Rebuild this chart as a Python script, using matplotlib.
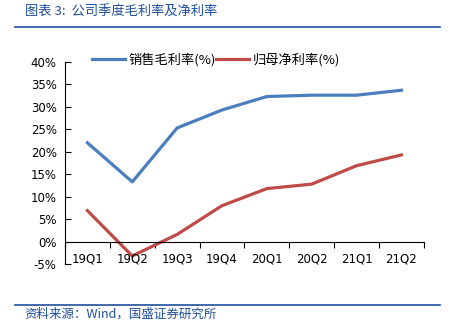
import matplotlib.pyplot as plt
import numpy as np

plt.rcParams['font.family'] = ['DejaVu Sans', 'Noto Sans CJK SC']

quarters = ['19Q1', '19Q2', '19Q3', '19Q4', '20Q1', '20Q2', '21Q1', '21Q2']
gross_margin = [22.0, 13.3, 25.3, 29.3, 32.3, 32.6, 32.6, 33.7]
net_margin = [6.9, -3.2, 1.6, 8.0, 11.8, 12.8, 16.9, 19.3]

blue = '#4A7EBF'
red = '#BE4B48'
title_col = '#1F4E9A'

fig = plt.figure(figsize=(4.5, 3.33), dpi=100)
ax = fig.add_axes([0.1444, 0.207, 0.7976, 0.607])

x = np.arange(len(quarters))
ax.plot(x, gross_margin, color=blue, lw=2.3, label='销售毛利率(%)')
ax.plot(x, net_margin, color=red, lw=2.3, label='归母净利率(%)')

ax.set_xlim(-0.5, len(quarters) - 0.5)
ax.set_ylim(-5, 40)
ax.set_yticks(np.arange(-5, 41, 5))
ax.set_yticklabels(['%d%%' % v for v in np.arange(-5, 41, 5)], fontsize=8.5)
ax.tick_params(axis='y', direction='in', length=4, width=0.8, pad=6)

ax.spines['top'].set_visible(False)
ax.spines['right'].set_visible(False)
ax.spines['bottom'].set_position(('data', 0))
ax.spines['left'].set_linewidth(0.8)
ax.spines['bottom'].set_linewidth(0.8)
ax.set_xticks(np.arange(len(quarters) + 1) - 0.5)
ax.set_xticklabels([])
ax.tick_params(axis='x', direction='out', length=4, width=0.8)

for i, q in enumerate(quarters):
    ax.text(i, 0.025, q, transform=ax.get_xaxis_transform(),
            ha='center', va='center', fontsize=8.5)

leg = ax.legend(loc='lower left', bbox_to_anchor=(0.06, 0.95), ncol=2,
                frameon=False, handlelength=2.5, handletextpad=0.3,
                columnspacing=0.0, borderaxespad=0,
                prop={'family': ['Noto Sans CJK SC'], 'size': 9.5})

fig.text(0.055, 0.962, '图表 3:  公司季度毛利率及净利率', color=title_col,
         fontsize=9.5, style='italic', family=['Noto Sans CJK SC', 'DejaVu Sans'],
         va='center')
fig.add_artist(plt.Line2D([0.033, 0.978], [0.918, 0.918], color=title_col, lw=1.2))
fig.add_artist(plt.Line2D([0.033, 0.978], [0.084, 0.084], color=title_col, lw=1.2))
fig.text(0.055, 0.058, '资料来源：Wind，国盛证券研究所', color=title_col,
         fontsize=9, style='italic', family=['Noto Sans CJK SC', 'DejaVu Sans'],
         va='center')

fig.savefig('out.png', dpi=100)
